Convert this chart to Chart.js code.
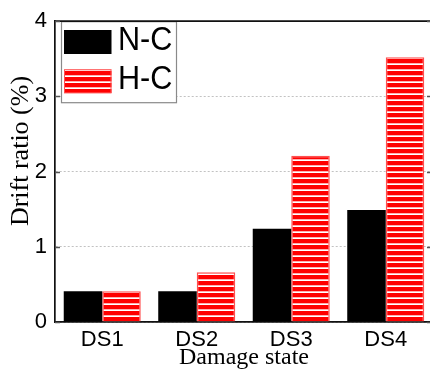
<!DOCTYPE html>
<html>
<head>
<meta charset="utf-8">
<script src="https://cdn.jsdelivr.net/npm/chart.js@4/dist/chart.umd.min.js"></script>
<style>
  html, body { margin: 0; padding: 0; background: #fff; overflow: hidden; width: 430px; height: 372px; }
  canvas { display: block; }
</style>
</head>
<body>
<canvas id="c" width="440" height="372"></canvas>
<script>
// Drift ratio per damage state for the two column types
const categories = ['DS1', 'DS2', 'DS3', 'DS4'];
const seriesNames = ['N-C', 'H-C'];
const ncValues = [0.41, 0.41, 1.24, 1.49];
const hcValues = [0.41, 0.66, 2.21, 3.52];
const yTicks = [0, 1, 2, 3, 4];
const xTitle = 'Damage state';
const yTitle = 'Drift ratio (%)';

// Red fill with thin white horizontal stripes
function stripePattern() {
  const c = document.createElement('canvas');
  c.width = 6; c.height = 6;
  const g = c.getContext('2d');
  g.fillStyle = '#ff0000'; g.fillRect(0, 0, 6, 6);
  g.fillStyle = '#ffb0b0'; g.fillRect(0, 3, 6, 1);
  g.fillStyle = '#ffffff'; g.fillRect(0, 4, 6, 1);
  return g.createPattern(c, 'repeat');
}

const SANS = '"Liberation Sans", Arial, sans-serif';
const SERIF = '"Liberation Serif", "Times New Roman", serif';

// Boxed legend in the upper-left corner of the plot
const boxLegend = {
  id: 'boxLegend',
  afterDraw(chart) {
    const ctx = chart.ctx;
    const a = chart.chartArea;
    ctx.save();
    ctx.fillStyle = '#fff';
    ctx.fillRect(61, a.top, 115, 81);
    ctx.strokeStyle = '#8a8a8a';
    ctx.lineWidth = 1.2;
    ctx.strokeRect(61.5, a.top + 0.5, 115, 81);
    chart.data.datasets.forEach((ds, i) => {
      const y = 30 + i * 39.3;
      ctx.fillStyle = ds.backgroundColor;
      ctx.fillRect(64, y, 47.5, 24);
      if (ds.borderWidth) {
        ctx.strokeStyle = ds.borderColor;
        ctx.lineWidth = 1;
        ctx.strokeRect(64.5, y + 0.5, 46.5, 23);
      }
      ctx.save();
      ctx.translate(118, y + 20);
      ctx.scale(0.9, 1);
      ctx.font = '34px ' + SANS;
      ctx.fillStyle = '#000';
      ctx.textBaseline = 'alphabetic';
      ctx.fillText(ds.label, 0, 0);
      ctx.restore();
    });
    ctx.restore();
  }
};

// Top/right frame, inward tick marks and the rotated y-axis title
const frame = {
  id: 'frame',
  afterDraw(chart) {
    const ctx = chart.ctx;
    const a = chart.chartArea;
    const ys = chart.scales.y;
    ctx.save();
    ctx.strokeStyle = '#111';
    ctx.lineWidth = 1.7;
    ctx.beginPath();
    ctx.moveTo(a.left, a.top);
    ctx.lineTo(chart.width, a.top);
    ctx.moveTo(a.right, a.top);
    ctx.lineTo(a.right, a.bottom);
    ctx.stroke();
    ctx.strokeStyle = '#555';
    ctx.lineWidth = 1.5;
    ys.ticks.forEach(t => {
      const py = Math.round(ys.getPixelForValue(t.value)) + 0.5;
      ctx.beginPath();
      ctx.moveTo(a.left, py); ctx.lineTo(a.left + 5, py);
      ctx.moveTo(a.right - 6, py); ctx.lineTo(a.right, py);
      ctx.stroke();
    });
    ctx.translate(21, 151);
    ctx.rotate(-Math.PI / 2);
    ctx.font = '26px ' + SERIF;
    ctx.fillStyle = '#000';
    ctx.textAlign = 'center';
    ctx.textBaseline = 'middle';
    ctx.fillText(yTitle, 0, 0);
    ctx.restore();
  }
};

new Chart(document.getElementById('c'), {
  type: 'bar',
  data: {
    labels: categories,
    datasets: [
      { label: seriesNames[0], data: ncValues, backgroundColor: '#000000',
        borderColor: '#333', borderWidth: 0 },
      { label: seriesNames[1], data: hcValues, backgroundColor: stripePattern(),
        borderColor: '#ff5050', borderWidth: 1.5 }
    ]
  },
  options: {
    responsive: false,
    animation: false,
    devicePixelRatio: 1,
    layout: { padding: { top: 17, right: 7, left: 0, bottom: 0 } },
    datasets: { bar: { categoryPercentage: 0.815, barPercentage: 1 } },
    plugins: { legend: { display: false }, tooltip: { enabled: false } },
    scales: {
      x: {
        grid: { display: false, drawTicks: false },
        border: { display: true, color: '#111', width: 1.7 },
        ticks: { font: { family: SANS, size: 22 }, color: '#000', padding: 5 },
        title: { display: true, text: xTitle, color: '#000',
                 font: { family: SERIF, size: 24 }, padding: { top: 0, bottom: 0 } },
        afterFit(s) { s.height = 50; }
      },
      y: {
        min: 0, max: 4,
        afterBuildTicks(s) { s.ticks = yTicks.map(v => ({ value: v })); },
        grid: { color: '#c2c2c2', lineWidth: 1, drawTicks: false },
        border: { display: true, color: '#111', width: 1.7, dash: [2, 2] },
        ticks: { font: { family: SANS, size: 22 }, color: '#000', padding: 8 },
        afterFit(s) { s.width = 55; }
      }
    }
  },
  plugins: [boxLegend, frame]
});
</script>
</body>
</html>
